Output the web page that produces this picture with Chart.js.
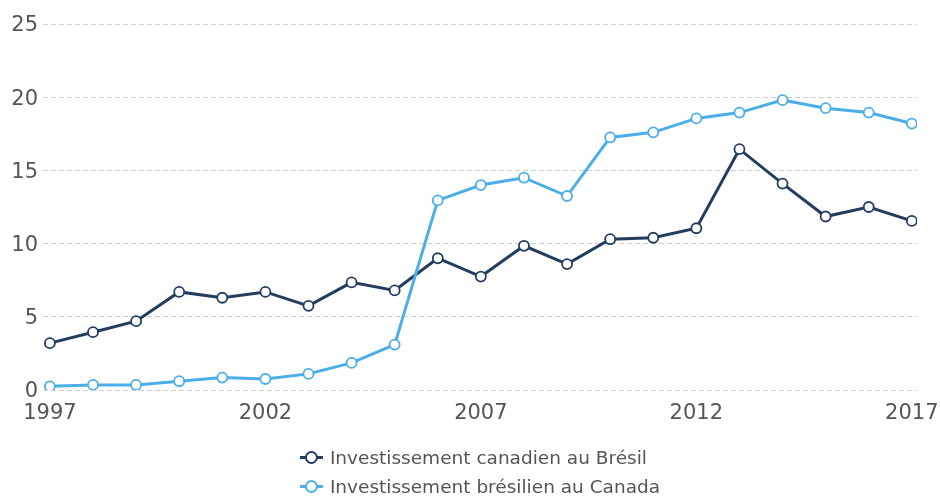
<!DOCTYPE html>
<html>
<head>
<meta charset="utf-8">
<script src="https://cdn.jsdelivr.net/npm/chart.js@4/dist/chart.umd.min.js"></script>
<style>
  html, body { margin: 0; padding: 0; background: #ffffff; }
  #wrap { width: 940px; height: 496px; position: relative; }
</style>
</head>
<body>
<div id="wrap"><canvas id="c" width="940" height="496"></canvas></div>
<script>
// ---- Data ----
const years = [1997,1998,1999,2000,2001,2002,2003,2004,2005,2006,2007,2008,2009,2010,2011,2012,2013,2014,2015,2016,2017];
const canadianInBrazil = [3.2,3.95,4.7,6.7,6.3,6.7,5.75,7.35,6.8,9.0,7.75,9.85,8.6,10.3,10.4,11.05,16.45,14.1,11.85,12.5,11.55];
const brazilianInCanada = [0.25,0.35,0.35,0.6,0.85,0.75,1.1,1.85,3.1,12.95,14.0,14.5,13.25,17.25,17.6,18.55,18.95,19.8,19.25,18.95,18.2];
const xTickLabels = [1997,2002,2007,2012,2017];
const yTickValues = [0,5,10,15,20,25];
const seriesNames = ["Investissement canadien au Brésil","Investissement brésilien au Canada"];

const darkColor = "#233d5f";
const lightColor = "#4aaee9";
const textColor = "#555555";
const fontFamily = '"DejaVu Sans", Verdana, sans-serif';

const toPoints = (vals) => years.map((y, i) => ({ x: y, y: vals[i] }));

const legendPlugin = {
  id: 'customLegend',
  afterDraw(chart) {
    const ctx = chart.ctx;
    const ca = chart.chartArea;
    const items = chart.data.datasets.map(d => ({ label: d.label, color: d.borderColor }));
    ctx.save();
    ctx.font = '18.5px ' + fontFamily;
    const maxW = Math.max(...items.map(it => ctx.measureText(it.label).width));
    const markerW = 23, gap = 7;
    const blockW = markerW + gap + maxW;
    const left = (ca.left + ca.right) / 2 - blockW / 2;
    const rowCenters = [457.5, 486.5];
    items.forEach((it, i) => {
      const cy = rowCenters[i];
      ctx.strokeStyle = it.color;
      ctx.lineWidth = 3;
      ctx.beginPath();
      ctx.moveTo(left, cy);
      ctx.lineTo(left + markerW, cy);
      ctx.stroke();
      ctx.beginPath();
      ctx.arc(left + markerW / 2, cy, 5.5, 0, Math.PI * 2);
      ctx.fillStyle = '#ffffff';
      ctx.fill();
      ctx.lineWidth = 2;
      ctx.stroke();
      ctx.fillStyle = textColor;
      ctx.textBaseline = 'alphabetic';
      ctx.textAlign = 'left';
      ctx.fillText(it.label, left + markerW + gap, cy + 6.7);
    });
    ctx.restore();
  }
};

new Chart(document.getElementById('c'), {
  type: 'line',
  data: {
    datasets: [
      {
        label: seriesNames[0],
        data: toPoints(canadianInBrazil),
        borderColor: darkColor,
        backgroundColor: '#ffffff',
        borderWidth: 3,
        pointRadius: 5,
        pointBorderWidth: 1.8,
        pointBackgroundColor: '#ffffff',
        pointBorderColor: darkColor,
        tension: 0,
        order: 2
      },
      {
        label: seriesNames[1],
        data: toPoints(brazilianInCanada),
        borderColor: lightColor,
        backgroundColor: '#ffffff',
        borderWidth: 3,
        pointRadius: 5,
        pointBorderWidth: 1.8,
        pointBackgroundColor: '#ffffff',
        pointBorderColor: lightColor,
        tension: 0,
        order: 1
      }
    ]
  },
  options: {
    responsive: false,
    animation: false,
    devicePixelRatio: 1,
    layout: { padding: { top: 24, right: 23, left: 0, bottom: 0 } },
    plugins: {
      legend: { display: false },
      tooltip: { enabled: false }
    },
    scales: {
      x: {
        type: 'linear',
        min: 1996.84,
        max: 2017.12,
        afterBuildTicks: (s) => { s.ticks = xTickLabels.map(v => ({ value: v })); },
        afterFit: (s) => { s.height = 106; s.paddingLeft = 0; s.paddingRight = 0; },
        grid: { display: false },
        border: { display: false },
        ticks: {
          autoSkip: false,
          maxRotation: 0,
          padding: 3,
          color: textColor,
          font: { family: fontFamily, size: 21 },
          callback: (v) => String(v)
        }
      },
      y: {
        min: 0,
        max: 25,
        afterBuildTicks: (s) => { s.ticks = yTickValues.map(v => ({ value: v })); },
        afterFit: (s) => { s.width = 43; s.paddingTop = 0; s.paddingBottom = 0; },
        border: { display: false, dash: [5, 3] },
        grid: { color: '#cfcfcf', lineWidth: 1, drawTicks: false },
        ticks: {
          padding: 5,
          labelOffset: 2,
          color: textColor,
          font: { family: fontFamily, size: 21 },
          callback: (v) => String(v)
        }
      }
    }
  },
  plugins: [legendPlugin]
});
</script>
</body>
</html>
